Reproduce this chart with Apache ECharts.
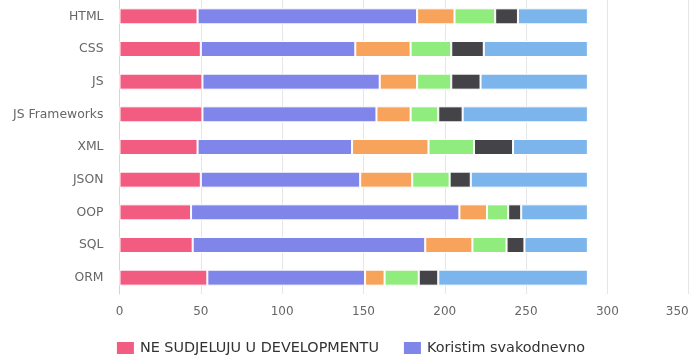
<!DOCTYPE html>
<html>
<head>
<meta charset="utf-8">
<script src="https://cdn.jsdelivr.net/npm/echarts@6/dist/echarts.min.js"></script>
<style>html,body{margin:0;padding:0;background:#fff;}#c{width:700px;height:356px;}</style>
</head>
<body>
<div id="c"></div>
<script>
const categories = ['HTML', 'CSS', 'JS', 'JS Frameworks', 'XML', 'JSON', 'OOP', 'SQL', 'ORM'];
const seriesNames = ['NE SUDJELUJU U DEVELOPMENTU', 'Koristim svakodnevno', 'Koristim povremeno', 'Koristio sam', 'Znam, ali ne koristim', 'Ne koristim'];
const neSudjeluju = [48, 50, 51, 51, 48, 50, 44, 45, 54];
const svakodnevno = [135, 95, 109, 107, 95, 98, 165, 143, 97];
const povremeno = [23, 34, 23, 21, 47, 32, 17, 29, 12];
const koristioSam = [25, 25, 21, 17, 28, 23, 13, 21, 21];
const znam = [14, 20, 18, 15, 24, 13, 8, 11, 12];
const neKoristim = [43, 64, 66, 77, 46, 72, 41, 39, 92];
const xTicks = [0, 50, 100, 150, 200, 250, 300, 350];

const values = [neSudjeluju, svakodnevno, povremeno, koristioSam, znam, neKoristim];
const colors = ['#f15c80', '#8085e9', '#f7a35c', '#90ed7d', '#434348', '#7cb5ec'];

const chart = echarts.init(document.getElementById('c'), null, {renderer: 'canvas'});
chart.setOption({
  animation: false,
  textStyle: {fontFamily: 'DejaVu Sans'},
  grid: {left: 119.5, right: 11.3, top: 0, bottom: 62, containLabel: false},
  legend: {
    data: seriesNames.slice(0, 2),
    top: 340,
    left: 'center',
    itemWidth: 19,
    itemHeight: 14,
    itemGap: 23,
    icon: 'rect',
    textStyle: {fontFamily: 'DejaVu Sans', fontSize: 14.4, color: '#333'},
    padding: 0
  },
  xAxis: {
    type: 'value',
    min: xTicks[0],
    max: xTicks[xTicks.length - 1],
    interval: xTicks[1] - xTicks[0],
    axisLine: {show: false},
    axisTick: {show: false},
    splitLine: {lineStyle: {color: '#e6e6e6', width: 1}},
    axisLabel: {color: '#666', fontSize: 12, margin: 12, fontFamily: 'DejaVu Sans', alignMaxLabel: 'right'}
  },
  yAxis: {
    type: 'category',
    data: categories,
    inverse: true,
    axisLine: {lineStyle: {color: '#ccd6eb'}},
    axisTick: {length: 10, lineStyle: {color: '#ccd6eb'}},
    axisLabel: {color: '#666', fontSize: 12.4, margin: 16, fontFamily: 'DejaVu Sans'}
  },
  series: seriesNames.map((name, i) => ({
    name: name,
    type: 'bar',
    stack: 'total',
    data: values[i],
    barWidth: 16,
    itemStyle: {color: colors[i], borderColor: '#fff', borderWidth: 1}
  }))
});
</script>
</body>
</html>
